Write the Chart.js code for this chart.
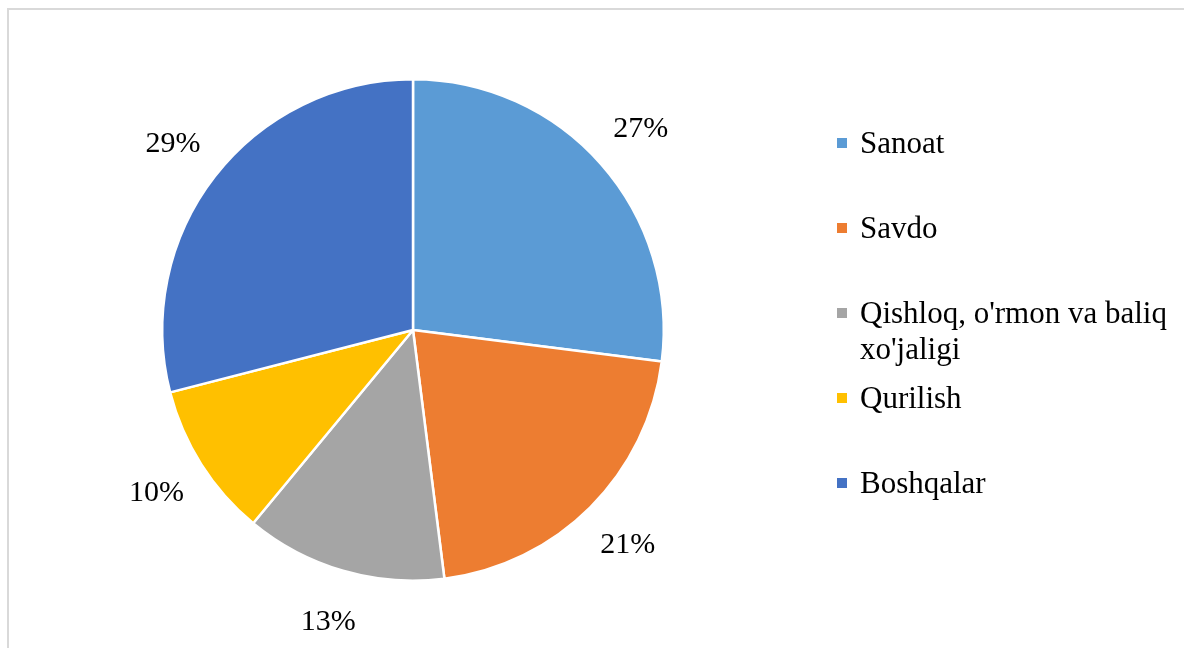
<!DOCTYPE html>
<html>
<head>
<meta charset="utf-8">
<script src="https://cdn.jsdelivr.net/npm/chart.js@4"></script>
<style>
  html, body { margin: 0; padding: 0; background: #fff; }
  #wrap { position: relative; width: 1184px; height: 648px; overflow: hidden; }
  #frame { position: absolute; left: 7px; top: 8px; width: 1200px; height: 700px; border: 2px solid #d9d9d9; box-sizing: border-box; }
  #chart { position: absolute; left: 0; top: 0; }
  #legend { position: absolute; left: 837px; top: 0; font-family: 'Liberation Serif', 'Times New Roman', serif; font-size: 31px; line-height: 36px; color: #000; }
  .item { position: absolute; left: 0; width: 345px; }
  .box { position: absolute; left: 0; top: 13px; width: 10px; height: 10px; }
  .txt { position: absolute; left: 23px; top: 0; width: 325px; white-space: nowrap; }
</style>
</head>
<body>
<div id="wrap">
  <div id="frame"></div>
  <canvas id="chart" width="1184" height="648"></canvas>
  <div id="legend"></div>
</div>
<script>
const categories = ['Sanoat', 'Savdo', "Qishloq, o'rmon va baliq xo'jaligi", 'Qurilish', 'Boshqalar'];
const legendLines = [['Sanoat'], ['Savdo'], ["Qishloq, o'rmon va baliq", "xo'jaligi"], ['Qurilish'], ['Boshqalar']];
const shares = [27, 21, 13, 10, 29];
const colors = ['#5B9BD5', '#ED7D31', '#A5A5A5', '#FFC000', '#4472C4'];

// percent labels just outside the pie
const outsideLabels = {
  id: 'outsideLabels',
  afterDatasetsDraw(chart) {
    const ctx = chart.ctx;
    const meta = chart.getDatasetMeta(0);
    ctx.save();
    ctx.font = "30px 'Liberation Serif', 'Times New Roman', serif";
    ctx.fillStyle = '#000';
    ctx.textAlign = 'center';
    ctx.textBaseline = 'middle';
    meta.data.forEach((arc, i) => {
      const mid = (arc.startAngle + arc.endAngle) / 2;
      const r = arc.outerRadius + 53;
      ctx.fillText(shares[i] + '%', arc.x + Math.cos(mid) * r, arc.y + Math.sin(mid) * r);
    });
    ctx.restore();
  }
};

new Chart(document.getElementById('chart'), {
  type: 'pie',
  data: {
    labels: categories,
    datasets: [{
      data: shares,
      backgroundColor: colors,
      borderColor: '#fff',
      borderWidth: 2.5
    }]
  },
  options: {
    responsive: false,
    animation: false,
    layout: { padding: { left: 161, right: 519, top: 78, bottom: 66 } },
    plugins: {
      legend: { display: false },
      tooltip: { enabled: false }
    }
  },
  plugins: [outsideLabels]
});

const legend = document.getElementById('legend');
legendLines.forEach((lines, i) => {
  const item = document.createElement('div');
  item.className = 'item';
  item.style.top = (125 + i * 85) + 'px';
  const box = document.createElement('div');
  box.className = 'box';
  box.style.background = colors[i];
  const txt = document.createElement('div');
  txt.className = 'txt';
  txt.innerHTML = lines.join('<br>');
  item.appendChild(box);
  item.appendChild(txt);
  legend.appendChild(item);
});
</script>
</body>
</html>
